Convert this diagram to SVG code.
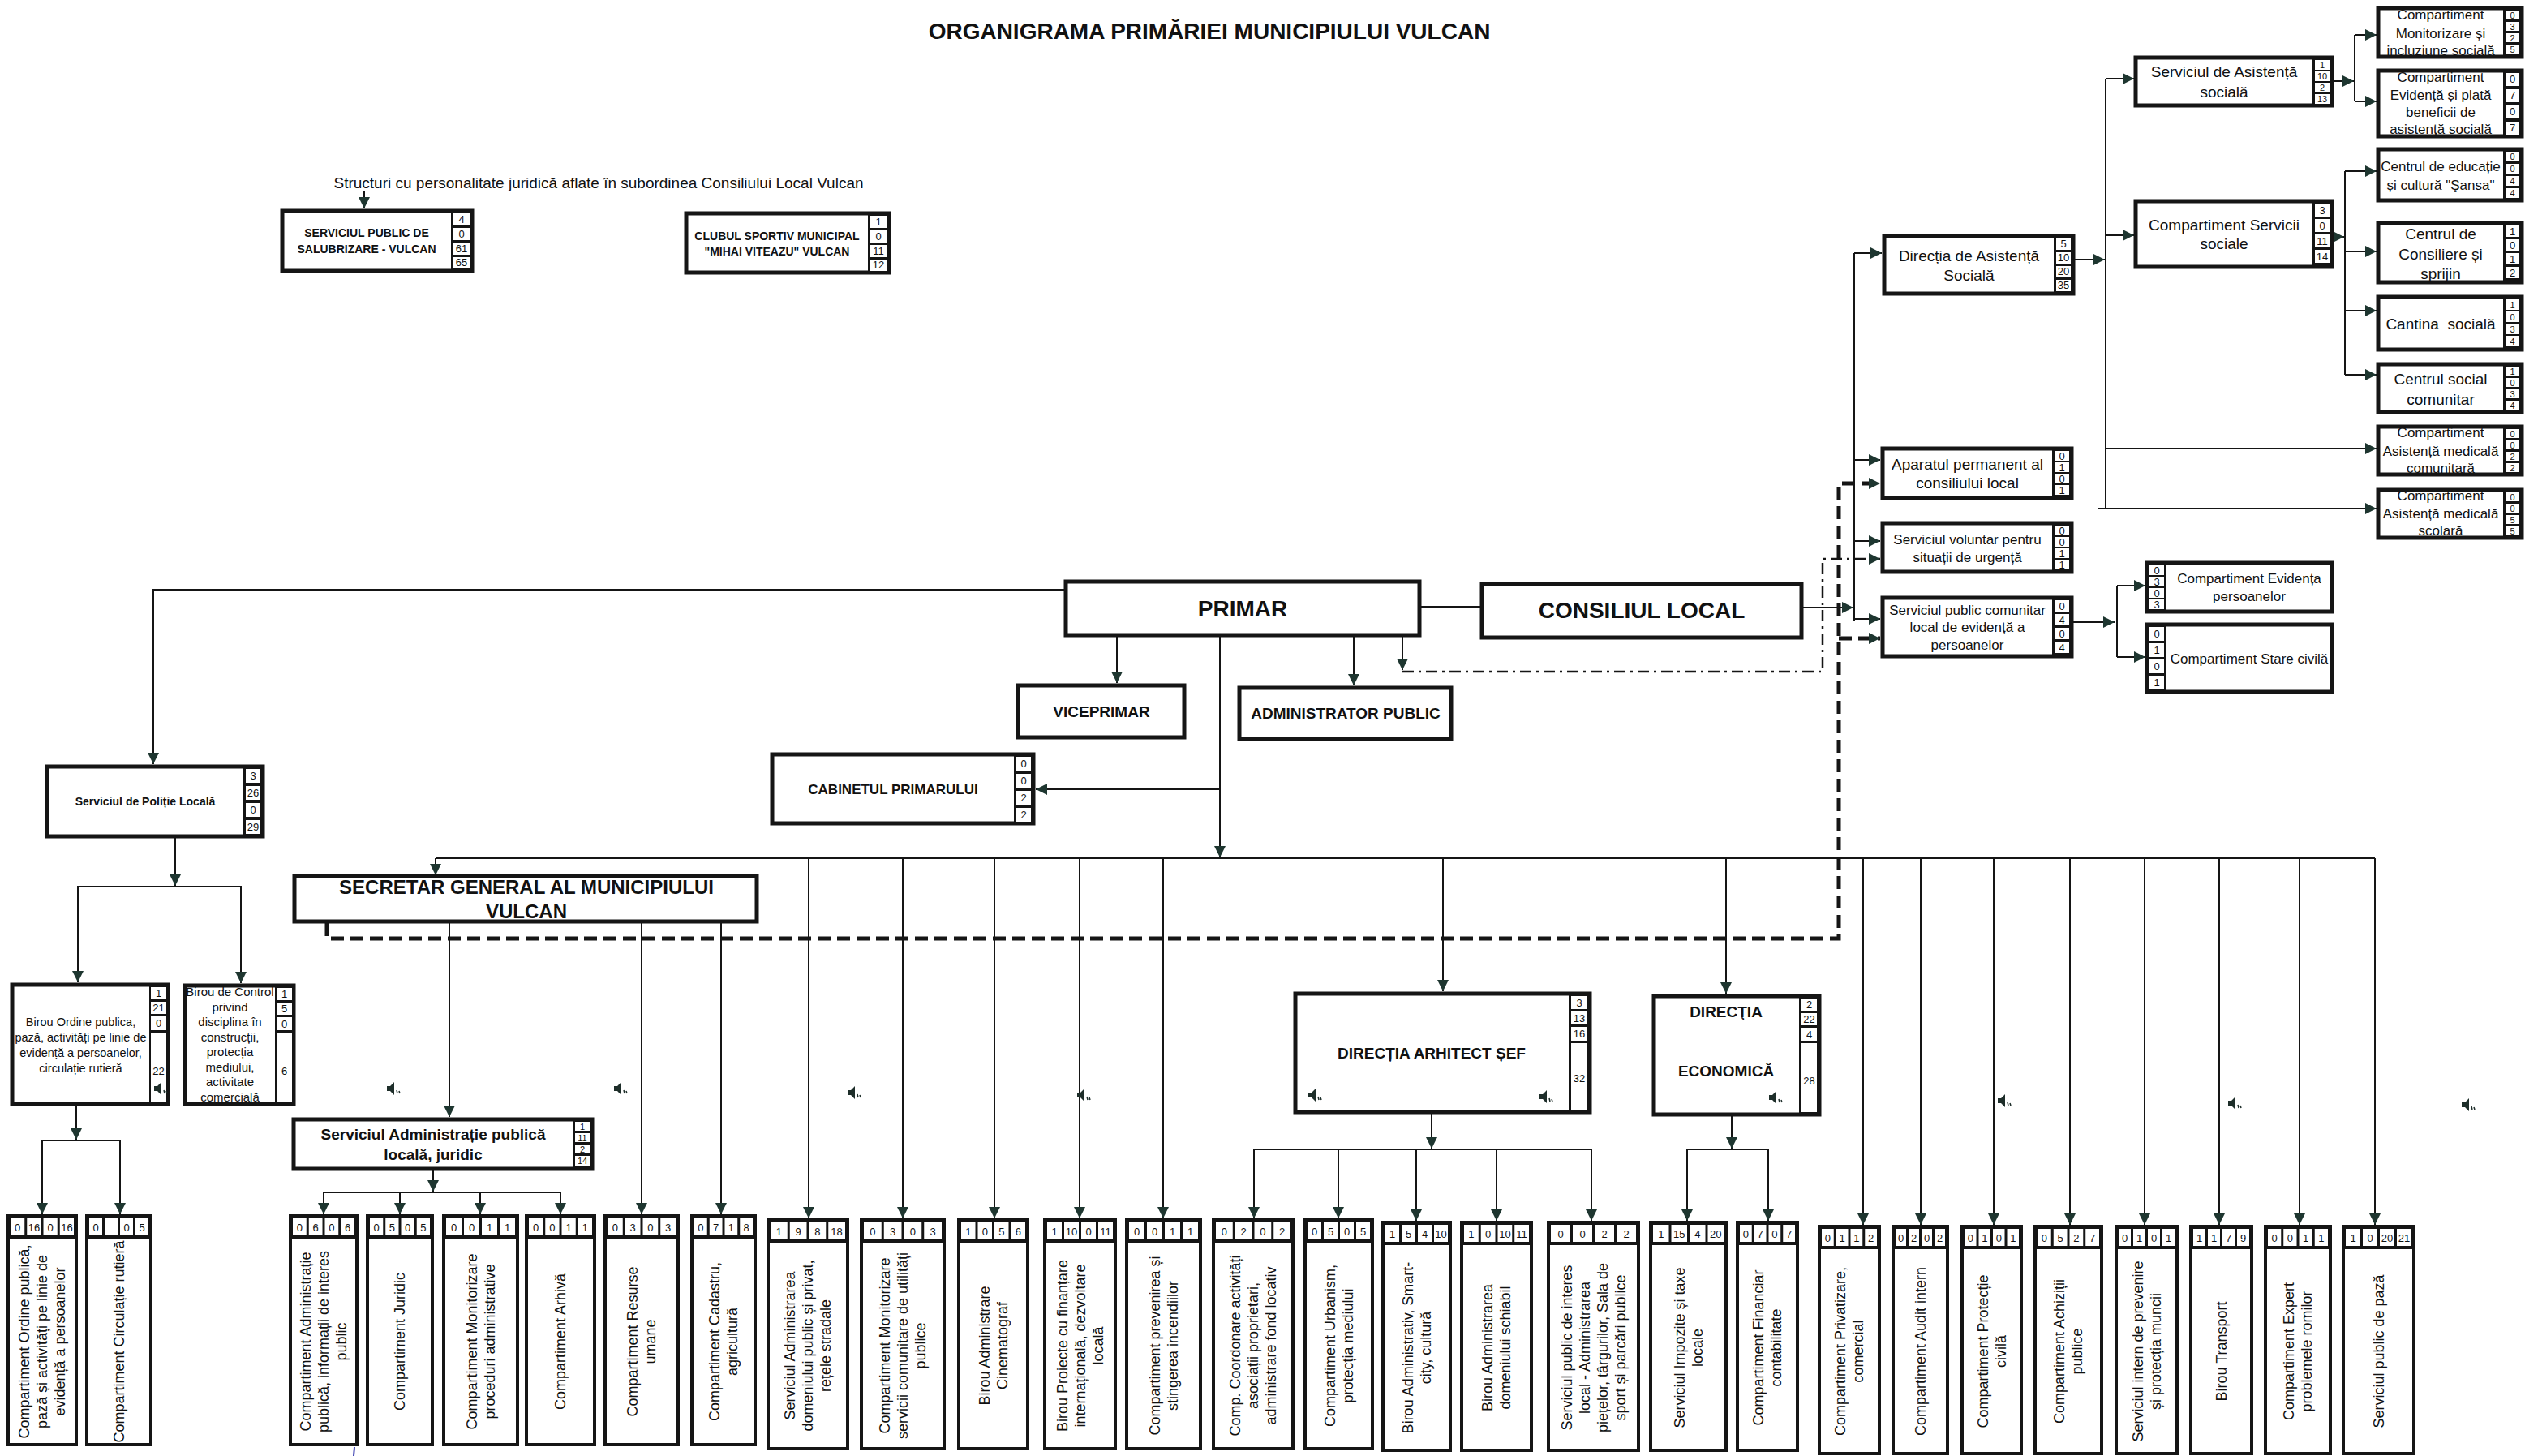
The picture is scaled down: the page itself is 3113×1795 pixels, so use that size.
<svg xmlns="http://www.w3.org/2000/svg" width="3113" height="1795" viewBox="0 0 3113 1795">
<defs>
<style>
.t{font-family:"Liberation Sans",Arial,Helvetica,sans-serif;fill:#111}
.b{font-weight:bold}
.m{text-anchor:middle}
.bx{fill:#fff;stroke:#151515;stroke-width:5}
.bb{fill:#fff;stroke:#151515;stroke-width:4}
.col{fill:#151515}
.cl{fill:#fff}
.n{font-family:"Liberation Sans",Arial,sans-serif;font-size:13px;text-anchor:middle;fill:#111}
.s{font-size:11px}
.v{font-family:"Liberation Sans",Arial,sans-serif;font-size:18px;text-anchor:middle;fill:#111}
.ln{fill:none;stroke:#151515;stroke-width:2}
.ds{fill:none;stroke:#151515;stroke-width:5;stroke-dasharray:16 8}
.dd{fill:none;stroke:#151515;stroke-width:2.5;stroke-dasharray:14 6 3 6}
</style>
<marker id="a" viewBox="0 0 10 10" refX="10" refY="5" markerWidth="14" markerHeight="14" markerUnits="userSpaceOnUse" orient="auto"><path d="M0,0 L10,5 L0,10 Z" fill="#1e3630"/></marker>
<g id="spk"><path d="M-5,-3 L-1,-3 L4,-8 L4,8 L-1,3 L-5,3 Z" fill="#1e2e2a"/><path d="M7,2 l1,4 M10,3 l1,3" stroke="#1e2e2a" stroke-width="1.5"/></g>
</defs>
<rect width="3113" height="1795" fill="#fff"/>
<text class="t b m" x="1491" y="48" font-size="28">ORGANIGRAMA PRIMĂRIEI MUNICIPIULUI VULCAN</text>
<text class="t m" x="738" y="232" font-size="19">Structuri cu personalitate juridică aflate în subordinea Consiliului Local Vulcan</text>

<g id="connectors">
<path class="ln" d="M449,236 V257" marker-end="url(#a)"/>
<path class="ln" d="M1312,727 H189 V942" marker-end="url(#a)"/>
<path class="ln" d="M216,1033 V1092" marker-end="url(#a)"/>
<path class="ln" d="M216,1093 H96 V1211" marker-end="url(#a)"/>
<path class="ln" d="M216,1093 H297 V1212" marker-end="url(#a)"/>
<path class="ln" d="M94,1363 V1405" marker-end="url(#a)"/>
<path class="ln" d="M94,1406 H52 V1497" marker-end="url(#a)"/>
<path class="ln" d="M94,1406 H148 V1497" marker-end="url(#a)"/>
<path class="ln" d="M1377,785 V842" marker-end="url(#a)"/>
<path class="ln" d="M1669,785 V845" marker-end="url(#a)"/>
<path class="ln" d="M1729,785 V826" marker-end="url(#a)"/>
<path class="dd" d="M1729,828 H2247 V689 H2318" marker-end="url(#a)"/>
<path class="ln" d="M1752,748 H1825"/>
<path class="ln" d="M2223,749 H2285" marker-end="url(#a)"/>
<path class="ln" d="M2286,312 V765"/>
<path class="ln" d="M2286,312 H2320" marker-end="url(#a)"/>
<path class="ln" d="M2286,567 H2318" marker-end="url(#a)"/>
<path class="ln" d="M2286,667 H2318" marker-end="url(#a)"/>
<path class="ln" d="M2286,763 H2318" marker-end="url(#a)"/>
<path class="ds" d="M403,1138 V1157 H2267 V596 H2318" marker-end="url(#a)"/>
<path class="ds" d="M2267,787 H2318" marker-end="url(#a)"/>
<path class="ln" d="M1504,783 V1057" marker-end="url(#a)"/>
<path class="ln" d="M1504,973 H1277" marker-end="url(#a)"/>
<path class="ln" d="M537,1058 H2928"/>
<path class="ln" d="M537,1058 V1079" marker-end="url(#a)"/>
<path class="ln" d="M997,1058 V1502" marker-end="url(#a)"/>
<path class="ln" d="M1113,1058 V1502" marker-end="url(#a)"/>
<path class="ln" d="M1226,1058 V1502" marker-end="url(#a)"/>
<path class="ln" d="M1331,1058 V1502" marker-end="url(#a)"/>
<path class="ln" d="M1434,1058 V1502" marker-end="url(#a)"/>
<path class="ln" d="M1779,1058 V1222" marker-end="url(#a)"/>
<path class="ln" d="M2128,1058 V1225" marker-end="url(#a)"/>
<path class="ln" d="M2297,1058 V1510" marker-end="url(#a)"/>
<path class="ln" d="M2368,1058 V1510" marker-end="url(#a)"/>
<path class="ln" d="M2458,1058 V1510" marker-end="url(#a)"/>
<path class="ln" d="M2552,1058 V1510" marker-end="url(#a)"/>
<path class="ln" d="M2644,1058 V1510" marker-end="url(#a)"/>
<path class="ln" d="M2736,1058 V1510" marker-end="url(#a)"/>
<path class="ln" d="M2835,1058 V1510" marker-end="url(#a)"/>
<path class="ln" d="M2928,1058 V1510" marker-end="url(#a)"/>
<path class="ln" d="M554,1138 V1377" marker-end="url(#a)"/>
<path class="ln" d="M791,1138 V1497" marker-end="url(#a)"/>
<path class="ln" d="M889,1138 V1497" marker-end="url(#a)"/>
<path class="ln" d="M534,1443 V1469" marker-end="url(#a)"/>
<path class="ln" d="M534,1470 H399 V1497" marker-end="url(#a)"/>
<path class="ln" d="M534,1470 H691 V1497" marker-end="url(#a)"/>
<path class="ln" d="M493,1470 V1497" marker-end="url(#a)"/>
<path class="ln" d="M592,1470 V1497" marker-end="url(#a)"/>
<path class="ln" d="M1765,1373 V1416" marker-end="url(#a)"/>
<path class="ln" d="M1765,1417 H1546 V1502" marker-end="url(#a)"/>
<path class="ln" d="M1765,1417 H1962 V1505" marker-end="url(#a)"/>
<path class="ln" d="M1650,1417 V1502" marker-end="url(#a)"/>
<path class="ln" d="M1746,1417 V1505" marker-end="url(#a)"/>
<path class="ln" d="M1845,1417 V1505" marker-end="url(#a)"/>
<path class="ln" d="M2135,1376 V1416" marker-end="url(#a)"/>
<path class="ln" d="M2135,1417 H2080 V1505" marker-end="url(#a)"/>
<path class="ln" d="M2135,1417 H2180 V1505" marker-end="url(#a)"/>
<path class="ln" d="M2558,320 H2595" marker-end="url(#a)"/>
<path class="ln" d="M2596,97 V627"/>
<path class="ln" d="M2596,97 H2631" marker-end="url(#a)"/>
<path class="ln" d="M2596,290 H2631" marker-end="url(#a)"/>
<path class="ln" d="M2596,553 H2930" marker-end="url(#a)"/>
<path class="ln" d="M2587,627 H2930" marker-end="url(#a)"/>
<path class="ln" d="M2877,100 H2902" marker-end="url(#a)"/>
<path class="ln" d="M2903,43 V125"/>
<path class="ln" d="M2903,43 H2930" marker-end="url(#a)"/>
<path class="ln" d="M2903,125 H2930" marker-end="url(#a)"/>
<path class="ln" d="M2877,292 H2890" marker-end="url(#a)"/>
<path class="ln" d="M2891,211 V462"/>
<path class="ln" d="M2891,211 H2930" marker-end="url(#a)"/>
<path class="ln" d="M2891,310 H2930" marker-end="url(#a)"/>
<path class="ln" d="M2891,383 H2930" marker-end="url(#a)"/>
<path class="ln" d="M2891,462 H2930" marker-end="url(#a)"/>
<path class="ln" d="M2556,767 H2607" marker-end="url(#a)"/>
<path class="ln" d="M2610,722 V810"/>
<path class="ln" d="M2610,722 H2645" marker-end="url(#a)"/>
<path class="ln" d="M2610,810 H2645" marker-end="url(#a)"/>
</g>

<g id="n-salubrizare">
<rect class="bx" x="348" y="260" width="234" height="74"/>
<rect class="col" x="556" y="260" width="26" height="74"/>
<rect class="cl" x="559" y="263" width="20" height="15"/><rect class="cl" x="559" y="281" width="20" height="15"/><rect class="cl" x="559" y="299" width="20" height="15"/><rect class="cl" x="559" y="317" width="20" height="14"/>
<text class="n" x="569" y="275">4</text><text class="n" x="569" y="293">0</text><text class="n" x="569" y="311">61</text><text class="n" x="569" y="328">65</text>
<text class="t b m" font-size="14"><tspan x="452" y="292">SERVICIUL PUBLIC DE</tspan><tspan x="452" y="312">SALUBRIZARE - VULCAN</tspan></text>
</g>
<g id="n-clubul">
<rect class="bx" x="846" y="263" width="250" height="73"/>
<rect class="col" x="1070" y="263" width="26" height="73"/>
<rect class="cl" x="1073" y="266" width="20" height="15"/><rect class="cl" x="1073" y="284" width="20" height="15"/><rect class="cl" x="1073" y="302" width="20" height="15"/><rect class="cl" x="1073" y="320" width="20" height="14"/>
<text class="n" x="1083" y="278">1</text><text class="n" x="1083" y="296">0</text><text class="n" x="1083" y="314">11</text><text class="n" x="1083" y="331">12</text>
<text class="t b m" font-size="14"><tspan x="958" y="296">CLUBUL SPORTIV MUNICIPAL</tspan><tspan x="958" y="315">"MIHAI VITEAZU" VULCAN</tspan></text>
</g>
<g id="n-primar"><rect class="bx" x="1314" y="717" width="436" height="66"/><text class="t b m" x="1532" y="760" font-size="28">PRIMAR</text></g>
<g id="n-consiliul"><rect class="bx" x="1827" y="720" width="394" height="66"/><text class="t b m" x="2024" y="762" font-size="28">CONSILIUL LOCAL</text></g>
<g id="n-viceprimar"><rect class="bx" x="1255" y="845" width="205" height="64"/><text class="t b m" x="1358" y="884" font-size="19">VICEPRIMAR</text></g>
<g id="n-administrator"><rect class="bx" x="1528" y="848" width="261" height="63"/><text class="t b m" x="1659" y="886" font-size="19">ADMINISTRATOR PUBLIC</text></g>
<g id="n-cabinet">
<rect class="bx" x="952" y="930" width="322" height="85"/>
<rect class="col" x="1250" y="930" width="24" height="85"/>
<rect class="cl" x="1253" y="933" width="18" height="17"/><rect class="cl" x="1253" y="954" width="18" height="17"/><rect class="cl" x="1253" y="975" width="18" height="17"/><rect class="cl" x="1253" y="996" width="18" height="17"/>
<text class="n" x="1262" y="946">0</text><text class="n" x="1262" y="967">0</text><text class="n" x="1262" y="988">2</text><text class="n" x="1262" y="1009">2</text>
<text class="t b m" x="1101" y="979" font-size="17">CABINETUL PRIMARULUI</text>
</g>
<g id="n-politie">
<rect class="bx" x="58" y="945" width="266" height="86"/>
<rect class="col" x="300" y="945" width="24" height="86"/>
<rect class="cl" x="303" y="948" width="18" height="17"/><rect class="cl" x="303" y="969" width="18" height="17"/><rect class="cl" x="303" y="990" width="18" height="17"/><rect class="cl" x="303" y="1011" width="18" height="17"/>
<text class="n" x="312" y="961">3</text><text class="n" x="312" y="982">26</text><text class="n" x="312" y="1003">0</text><text class="n" x="312" y="1024">29</text>
<text class="t b m" x="179" y="993" font-size="14">Serviciul de Poliție Locală</text>
</g>
<g id="n-birou-ordine">
<rect class="bx" x="15" y="1214" width="192" height="147"/>
<rect class="col" x="184" y="1214" width="23" height="147"/>
<rect class="cl" x="186" y="1217" width="19" height="15"/><rect class="cl" x="186" y="1235" width="19" height="15"/><rect class="cl" x="186" y="1253" width="19" height="17"/><rect class="cl" x="186" y="1273" width="19" height="85"/>
<text class="n" x="195.5" y="1229" font-size="15">1</text><text class="n" x="195.5" y="1247" font-size="15">21</text><text class="n" x="195.5" y="1266" font-size="15">0</text><text class="n" x="195.5" y="1325" font-size="15">22</text>
<text class="t m" font-size="14.5"><tspan x="99.5" y="1265">Birou Ordine publica,</tspan><tspan x="99.5" y="1284">pază, activități pe linie de</tspan><tspan x="99.5" y="1303">evidență a persoanelor,</tspan><tspan x="99.5" y="1322">circulație rutieră</tspan></text>
</g>
<g id="n-birou-control">
<rect class="bx" x="228" y="1215" width="134" height="146"/>
<rect class="col" x="339" y="1215" width="23" height="146"/>
<rect class="cl" x="341" y="1218" width="19" height="15"/><rect class="cl" x="341" y="1236" width="19" height="15"/><rect class="cl" x="341" y="1254" width="19" height="16"/><rect class="cl" x="341" y="1273" width="19" height="85"/>
<text class="n" x="350.5" y="1230" font-size="15">1</text><text class="n" x="350.5" y="1248" font-size="15">5</text><text class="n" x="350.5" y="1267" font-size="15">0</text><text class="n" x="350.5" y="1325" font-size="15">6</text>
<text class="t m" font-size="15"><tspan x="283.5" y="1228">Birou de Control</tspan><tspan x="283.5" y="1246.5">privind</tspan><tspan x="283.5" y="1265">disciplina în</tspan><tspan x="283.5" y="1283.5">construcții,</tspan><tspan x="283.5" y="1302">protecția</tspan><tspan x="283.5" y="1320.5">mediului,</tspan><tspan x="283.5" y="1339">activitate</tspan><tspan x="283.5" y="1357.5">comercială</tspan></text>
</g>
<g id="n-secretar"><rect class="bx" x="363" y="1080" width="570" height="56"/><text class="t b m" font-size="24"><tspan x="649" y="1102">SECRETAR GENERAL AL MUNICIPIULUI</tspan><tspan x="649" y="1132">VULCAN</tspan></text></g>
<g id="n-serv-adm-publica">
<rect class="bx" x="362" y="1380" width="368" height="61"/>
<rect class="col" x="706" y="1380" width="24" height="61"/>
<rect class="cl" x="709" y="1383" width="18" height="11"/><rect class="cl" x="709" y="1397" width="18" height="11"/><rect class="cl" x="709" y="1411" width="18" height="11"/><rect class="cl" x="709" y="1425" width="18" height="12"/>
<text class="n s" x="718" y="1393">1</text><text class="n s" x="718" y="1407">11</text><text class="n s" x="718" y="1421">2</text><text class="n s" x="718" y="1435">14</text>
<text class="t b m" font-size="19"><tspan x="534" y="1405">Serviciul Administrație publică</tspan><tspan x="534" y="1430">locală, juridic</tspan></text>
</g>
<g id="n-arhitect">
<rect class="bx" x="1597" y="1225" width="363" height="146"/>
<rect class="col" x="1934" y="1225" width="26" height="146"/>
<rect class="cl" x="1937" y="1228" width="20" height="16"/><rect class="cl" x="1937" y="1247" width="20" height="16"/><rect class="cl" x="1937" y="1266" width="20" height="17"/><rect class="cl" x="1937" y="1286" width="20" height="82"/>
<text class="n" x="1947" y="1241" font-size="14">3</text><text class="n" x="1947" y="1260" font-size="14">13</text><text class="n" x="1947" y="1279" font-size="14">16</text><text class="n" x="1947" y="1334" font-size="14">32</text>
<text class="t b m" x="1765" y="1305" font-size="19">DIRECȚIA ARHITECT ȘEF</text>
</g>
<g id="n-economica">
<rect class="bx" x="2039" y="1228" width="204" height="146"/>
<rect class="col" x="2218" y="1228" width="25" height="146"/>
<rect class="cl" x="2221" y="1231" width="19" height="15"/><rect class="cl" x="2221" y="1249" width="19" height="15"/><rect class="cl" x="2221" y="1267" width="19" height="16"/><rect class="cl" x="2221" y="1286" width="19" height="85"/>
<text class="n" x="2230.5" y="1243" font-size="14">2</text><text class="n" x="2230.5" y="1261" font-size="14">22</text><text class="n" x="2230.5" y="1280" font-size="14">4</text><text class="n" x="2230.5" y="1337" font-size="14">28</text>
<text class="t b m" font-size="19"><tspan x="2128" y="1254">DIRECŢIA</tspan><tspan x="2128" y="1327">ECONOMICĂ</tspan></text>
</g>
<g id="n-dir-asistenta">
<rect class="bx" x="2323" y="291" width="233" height="71"/>
<rect class="col" x="2532" y="291" width="24" height="71"/>
<rect class="cl" x="2535" y="294" width="18" height="14"/><rect class="cl" x="2535" y="311" width="18" height="14"/><rect class="cl" x="2535" y="328" width="18" height="14"/><rect class="cl" x="2535" y="345" width="18" height="14"/>
<text class="n" x="2544" y="305" font-size="12">5</text><text class="n" x="2544" y="322" font-size="12">10</text><text class="n" x="2544" y="339" font-size="12">20</text><text class="n" x="2544" y="356" font-size="12">35</text>
<text class="t m" font-size="19"><tspan x="2427.5" y="322">Direcția de Asistență</tspan><tspan x="2427.5" y="346">Socială</tspan></text>
</g>
<g id="n-serv-asistenta">
<rect class="bx" x="2633" y="71" width="242" height="59"/>
<rect class="col" x="2851" y="71" width="24" height="59"/>
<rect class="cl" x="2854" y="74" width="18" height="12"/><rect class="cl" x="2854" y="88" width="18" height="12"/><rect class="cl" x="2854" y="102" width="18" height="12"/><rect class="cl" x="2854" y="116" width="18" height="12"/>
<text class="n s" x="2863" y="84">1</text><text class="n s" x="2863" y="98">10</text><text class="n s" x="2863" y="112">2</text><text class="n s" x="2863" y="126">13</text>
<text class="t m" font-size="19"><tspan x="2742" y="95">Serviciul de Asistență</tspan><tspan x="2742" y="120">socială</tspan></text>
</g>
<g id="n-comp-servicii">
<rect class="bx" x="2633" y="248" width="242" height="81"/>
<rect class="col" x="2851" y="248" width="24" height="81"/>
<rect class="cl" x="2854" y="251" width="18" height="16"/><rect class="cl" x="2854" y="270" width="18" height="16"/><rect class="cl" x="2854" y="289" width="18" height="16"/><rect class="cl" x="2854" y="308" width="18" height="16"/>
<text class="n" x="2863" y="264">3</text><text class="n" x="2863" y="283">0</text><text class="n" x="2863" y="302">11</text><text class="n" x="2863" y="321">14</text>
<text class="t m" font-size="19"><tspan x="2742" y="284">Compartiment Servicii</tspan><tspan x="2742" y="307">sociale</tspan></text>
</g>
<g id="n-monitorizare">
<rect class="bx" x="2932" y="10" width="177" height="60"/>
<rect class="col" x="3086" y="10" width="23" height="60"/>
<rect class="cl" x="3089" y="13" width="17" height="11"/><rect class="cl" x="3089" y="27" width="17" height="11"/><rect class="cl" x="3089" y="41" width="17" height="11"/><rect class="cl" x="3089" y="55" width="17" height="11"/>
<text class="n s" x="3097.5" y="23">0</text><text class="n s" x="3097.5" y="37">3</text><text class="n s" x="3097.5" y="51">2</text><text class="n s" x="3097.5" y="65">5</text>
<text class="t m" font-size="17"><tspan x="3009" y="24">Compartiment</tspan><tspan x="3009" y="47">Monitorizare și</tspan><tspan x="3009" y="68">incluziune socială</tspan></text>
</g>
<g id="n-evidenta-plata">
<rect class="bx" x="2932" y="87" width="177" height="81"/>
<rect class="col" x="3086" y="87" width="23" height="81"/>
<rect class="cl" x="3089" y="90" width="17" height="16"/><rect class="cl" x="3089" y="110" width="17" height="16"/><rect class="cl" x="3089" y="130" width="17" height="16"/><rect class="cl" x="3089" y="150" width="17" height="16"/>
<text class="n" x="3097.5" y="102" font-size="12">0</text><text class="n" x="3097.5" y="122" font-size="12">7</text><text class="n" x="3097.5" y="142" font-size="12">0</text><text class="n" x="3097.5" y="162" font-size="12">7</text>
<text class="t m" font-size="17"><tspan x="3009" y="101">Compartiment</tspan><tspan x="3009" y="123">Evidență și plată</tspan><tspan x="3009" y="144">beneficii de</tspan><tspan x="3009" y="165">asistență socială</tspan></text>
</g>
<g id="n-sansa">
<rect class="bx" x="2932" y="184" width="177" height="63"/>
<rect class="col" x="3086" y="184" width="23" height="63"/>
<rect class="cl" x="3089" y="187" width="17" height="12"/><rect class="cl" x="3089" y="202" width="17" height="12"/><rect class="cl" x="3089" y="217" width="17" height="12"/><rect class="cl" x="3089" y="232" width="17" height="12"/>
<text class="n s" x="3097.5" y="197">0</text><text class="n s" x="3097.5" y="212">0</text><text class="n s" x="3097.5" y="227">4</text><text class="n s" x="3097.5" y="242">4</text>
<text class="t m" font-size="17"><tspan x="3009" y="211">Centrul de educație</tspan><tspan x="3009" y="234">și cultură "Şansa"</tspan></text>
</g>
<g id="n-consiliere">
<rect class="bx" x="2932" y="275" width="177" height="73"/>
<rect class="col" x="3086" y="275" width="23" height="73"/>
<rect class="cl" x="3089" y="278" width="17" height="14"/><rect class="cl" x="3089" y="295" width="17" height="14"/><rect class="cl" x="3089" y="312" width="17" height="14"/><rect class="cl" x="3089" y="329" width="17" height="14"/>
<text class="n" x="3097.5" y="290" font-size="12">1</text><text class="n" x="3097.5" y="307" font-size="12">0</text><text class="n" x="3097.5" y="324" font-size="12">1</text><text class="n" x="3097.5" y="341" font-size="12">2</text>
<text class="t m" font-size="19"><tspan x="3009" y="295">Centrul de</tspan><tspan x="3009" y="320">Consiliere și</tspan><tspan x="3009" y="344">sprijin</tspan></text>
</g>
<g id="n-cantina">
<rect class="bx" x="2932" y="366" width="177" height="65"/>
<rect class="col" x="3086" y="366" width="23" height="65"/>
<rect class="cl" x="3089" y="369" width="17" height="13"/><rect class="cl" x="3089" y="384" width="17" height="13"/><rect class="cl" x="3089" y="399" width="17" height="13"/><rect class="cl" x="3089" y="414" width="17" height="13"/>
<text class="n s" x="3097.5" y="380">1</text><text class="n s" x="3097.5" y="395">0</text><text class="n s" x="3097.5" y="410">3</text><text class="n s" x="3097.5" y="425">4</text>
<text class="t m" x="3009" y="406" font-size="19" xml:space="preserve">Cantina  socială</text>
</g>
<g id="n-centrul-social">
<rect class="bx" x="2932" y="449" width="177" height="59"/>
<rect class="col" x="3086" y="449" width="23" height="59"/>
<rect class="cl" x="3089" y="452" width="17" height="11"/><rect class="cl" x="3089" y="466" width="17" height="11"/><rect class="cl" x="3089" y="480" width="17" height="11"/><rect class="cl" x="3089" y="494" width="17" height="11"/>
<text class="n s" x="3097.5" y="462">1</text><text class="n s" x="3097.5" y="476">0</text><text class="n s" x="3097.5" y="490">3</text><text class="n s" x="3097.5" y="504">4</text>
<text class="t m" font-size="19"><tspan x="3009" y="474">Centrul social</tspan><tspan x="3009" y="499">comunitar</tspan></text>
</g>
<g id="n-med-comunitara">
<rect class="bx" x="2932" y="526" width="177" height="59"/>
<rect class="col" x="3086" y="526" width="23" height="59"/>
<rect class="cl" x="3089" y="529" width="17" height="11"/><rect class="cl" x="3089" y="543" width="17" height="11"/><rect class="cl" x="3089" y="557" width="17" height="11"/><rect class="cl" x="3089" y="571" width="17" height="11"/>
<text class="n s" x="3097.5" y="539">0</text><text class="n s" x="3097.5" y="553">0</text><text class="n s" x="3097.5" y="567">2</text><text class="n s" x="3097.5" y="581">2</text>
<text class="t m" font-size="17"><tspan x="3009" y="539">Compartiment</tspan><tspan x="3009" y="562">Asistență medicală</tspan><tspan x="3009" y="583">comunitară</tspan></text>
</g>
<g id="n-med-scolara">
<rect class="bx" x="2932" y="604" width="177" height="59"/>
<rect class="col" x="3086" y="604" width="23" height="59"/>
<rect class="cl" x="3089" y="607" width="17" height="11"/><rect class="cl" x="3089" y="621" width="17" height="11"/><rect class="cl" x="3089" y="635" width="17" height="11"/><rect class="cl" x="3089" y="649" width="17" height="11"/>
<text class="n s" x="3097.5" y="617">0</text><text class="n s" x="3097.5" y="631">0</text><text class="n s" x="3097.5" y="645">5</text><text class="n s" x="3097.5" y="659">5</text>
<text class="t m" font-size="17"><tspan x="3009" y="617">Compartiment</tspan><tspan x="3009" y="639">Asistență medicală</tspan><tspan x="3009" y="660">scolară</tspan></text>
</g>
<g id="n-aparatul">
<rect class="bx" x="2321" y="553" width="233" height="61"/>
<rect class="col" x="2530" y="553" width="24" height="61"/>
<rect class="cl" x="2533" y="556" width="18" height="12"/><rect class="cl" x="2533" y="570" width="18" height="12"/><rect class="cl" x="2533" y="584" width="18" height="12"/><rect class="cl" x="2533" y="598" width="18" height="12"/>
<text class="n" x="2542" y="567" font-size="12">0</text><text class="n" x="2542" y="581" font-size="12">1</text><text class="n" x="2542" y="595" font-size="12">0</text><text class="n" x="2542" y="609" font-size="12">1</text>
<text class="t m" font-size="19"><tspan x="2425.5" y="579">Aparatul permanent al</tspan><tspan x="2425.5" y="602">consiliului local</tspan></text>
</g>
<g id="n-voluntar">
<rect class="bx" x="2321" y="645" width="233" height="60"/>
<rect class="col" x="2530" y="645" width="24" height="60"/>
<rect class="cl" x="2533" y="648" width="18" height="12"/><rect class="cl" x="2533" y="662" width="18" height="12"/><rect class="cl" x="2533" y="676" width="18" height="12"/><rect class="cl" x="2533" y="690" width="18" height="12"/>
<text class="n" x="2542" y="659" font-size="12">0</text><text class="n" x="2542" y="673" font-size="12">0</text><text class="n" x="2542" y="687" font-size="12">1</text><text class="n" x="2542" y="701" font-size="12">1</text>
<text class="t m" font-size="17"><tspan x="2425.5" y="671">Serviciul voluntar pentru</tspan><tspan x="2425.5" y="693">situații de urgență</tspan></text>
</g>
<g id="n-spclep">
<rect class="bx" x="2321" y="737" width="233" height="72"/>
<rect class="col" x="2530" y="737" width="24" height="72"/>
<rect class="cl" x="2533" y="740" width="18" height="14"/><rect class="cl" x="2533" y="757" width="18" height="14"/><rect class="cl" x="2533" y="774" width="18" height="14"/><rect class="cl" x="2533" y="791" width="18" height="14"/>
<text class="n" x="2542" y="752" font-size="12">0</text><text class="n" x="2542" y="769" font-size="12">4</text><text class="n" x="2542" y="786" font-size="12">0</text><text class="n" x="2542" y="803" font-size="12">4</text>
<text class="t m" font-size="17"><tspan x="2425.5" y="758">Serviciul public comunitar</tspan><tspan x="2425.5" y="779">local de evidență a</tspan><tspan x="2425.5" y="801">persoanelor</tspan></text>
</g>
<g id="n-evidenta-pers">
<rect class="bx" x="2647" y="694" width="228" height="60"/>
<rect class="col" x="2647" y="694" width="24" height="60"/>
<rect class="cl" x="2650" y="697" width="18" height="12"/><rect class="cl" x="2650" y="711" width="18" height="12"/><rect class="cl" x="2650" y="725" width="18" height="12"/><rect class="cl" x="2650" y="739" width="18" height="12"/>
<text class="n" x="2659" y="708" font-size="12">0</text><text class="n" x="2659" y="722" font-size="12">3</text><text class="n" x="2659" y="736" font-size="12">0</text><text class="n" x="2659" y="750" font-size="12">3</text>
<text class="t m" font-size="17"><tspan x="2773" y="719">Compartiment Evidența</tspan><tspan x="2773" y="741">persoanelor</tspan></text>
</g>
<g id="n-stare-civila">
<rect class="bx" x="2647" y="770" width="228" height="83"/>
<rect class="col" x="2647" y="770" width="24" height="83"/>
<rect class="cl" x="2650" y="773" width="18" height="17"/><rect class="cl" x="2650" y="793" width="18" height="17"/><rect class="cl" x="2650" y="813" width="18" height="17"/><rect class="cl" x="2650" y="833" width="18" height="17"/>
<text class="n" x="2659" y="786">0</text><text class="n" x="2659" y="806">1</text><text class="n" x="2659" y="826">0</text><text class="n" x="2659" y="846">1</text>
<text class="t m" x="2773" y="818" font-size="17">Compartiment Stare civilă</text>
</g>

<g id="b01"><rect class="bb" x="10" y="1499" width="84" height="282"/><rect class="col" x="8" y="1497" width="88" height="30"/>
<rect class="cl" x="13" y="1502" width="17.25" height="21"/><rect class="cl" x="33.25" y="1502" width="17.25" height="21"/><rect class="cl" x="53.5" y="1502" width="17.25" height="21"/><rect class="cl" x="73.75" y="1502" width="17.25" height="21"/>
<text class="n" x="21.6" y="1518">0</text><text class="n" x="41.9" y="1518">16</text><text class="n" x="62.1" y="1518">0</text><text class="n" x="82.4" y="1518">16</text>
<text class="v" transform="rotate(-90 52 1654)"><tspan x="52" y="1638">Compartiment Ordine publică,</tspan><tspan x="52" y="1660">pază și activități pe linie de</tspan><tspan x="52" y="1682">evidență a persoanelor</tspan></text></g>
<g id="b02"><rect class="bb" x="107" y="1499" width="79" height="282"/><rect class="col" x="105" y="1497" width="83" height="30"/>
<rect class="cl" x="110" y="1502" width="16" height="21"/><rect class="cl" x="129" y="1502" width="16" height="21"/><rect class="cl" x="148" y="1502" width="16" height="21"/><rect class="cl" x="167" y="1502" width="16" height="21"/>
<text class="n" x="118" y="1518">0</text><text class="n" x="156" y="1518">0</text><text class="n" x="175" y="1518">5</text>
<text class="v" transform="rotate(-90 146.5 1654)"><tspan x="146.5" y="1660">Compartiment Circulație rutieră</tspan></text></g>
<g id="b03"><rect class="bb" x="358" y="1499" width="82" height="282"/><rect class="col" x="356" y="1497" width="86" height="30"/>
<rect class="cl" x="361" y="1502" width="16.75" height="21"/><rect class="cl" x="380.75" y="1502" width="16.75" height="21"/><rect class="cl" x="400.5" y="1502" width="16.75" height="21"/><rect class="cl" x="420.25" y="1502" width="16.75" height="21"/>
<text class="n" x="369.4" y="1518">0</text><text class="n" x="389.1" y="1518">6</text><text class="n" x="408.9" y="1518">0</text><text class="n" x="428.6" y="1518">6</text>
<text class="v" transform="rotate(-90 399 1654)"><tspan x="399" y="1638">Compartiment Administrație</tspan><tspan x="399" y="1660">publică, informații de interes</tspan><tspan x="399" y="1682">public</tspan></text></g>
<g id="b04"><rect class="bb" x="453" y="1499" width="80" height="282"/><rect class="col" x="451" y="1497" width="84" height="30"/>
<rect class="cl" x="456" y="1502" width="16.25" height="21"/><rect class="cl" x="475.25" y="1502" width="16.25" height="21"/><rect class="cl" x="494.5" y="1502" width="16.25" height="21"/><rect class="cl" x="513.75" y="1502" width="16.25" height="21"/>
<text class="n" x="464.1" y="1518">0</text><text class="n" x="483.4" y="1518">5</text><text class="n" x="502.6" y="1518">0</text><text class="n" x="521.9" y="1518">5</text>
<text class="v" transform="rotate(-90 493 1654)"><tspan x="493" y="1660">Compartiment Juridic</tspan></text></g>
<g id="b05"><rect class="bb" x="547" y="1499" width="91" height="282"/><rect class="col" x="545" y="1497" width="95" height="30"/>
<rect class="cl" x="550" y="1502" width="19" height="21"/><rect class="cl" x="572" y="1502" width="19" height="21"/><rect class="cl" x="594" y="1502" width="19" height="21"/><rect class="cl" x="616" y="1502" width="19" height="21"/>
<text class="n" x="559.5" y="1518">0</text><text class="n" x="581.5" y="1518">0</text><text class="n" x="603.5" y="1518">1</text><text class="n" x="625.5" y="1518">1</text>
<text class="v" transform="rotate(-90 592.5 1654)"><tspan x="592.5" y="1649">Compartiment Monitorizare</tspan><tspan x="592.5" y="1671">proceduri administrative</tspan></text></g>
<g id="b06"><rect class="bb" x="649" y="1499" width="84" height="282"/><rect class="col" x="647" y="1497" width="88" height="30"/>
<rect class="cl" x="652" y="1502" width="17.25" height="21"/><rect class="cl" x="672.25" y="1502" width="17.25" height="21"/><rect class="cl" x="692.5" y="1502" width="17.25" height="21"/><rect class="cl" x="712.75" y="1502" width="17.25" height="21"/>
<text class="n" x="660.6" y="1518">0</text><text class="n" x="680.9" y="1518">0</text><text class="n" x="701.1" y="1518">1</text><text class="n" x="721.4" y="1518">1</text>
<text class="v" transform="rotate(-90 691 1654)"><tspan x="691" y="1660">Compartiment Arhivă</tspan></text></g>
<g id="b07"><rect class="bb" x="746" y="1499" width="90" height="282"/><rect class="col" x="744" y="1497" width="94" height="30"/>
<rect class="cl" x="749" y="1502" width="18.75" height="21"/><rect class="cl" x="770.75" y="1502" width="18.75" height="21"/><rect class="cl" x="792.5" y="1502" width="18.75" height="21"/><rect class="cl" x="814.25" y="1502" width="18.75" height="21"/>
<text class="n" x="758.4" y="1518">0</text><text class="n" x="780.1" y="1518">3</text><text class="n" x="801.9" y="1518">0</text><text class="n" x="823.6" y="1518">3</text>
<text class="v" transform="rotate(-90 791 1654)"><tspan x="791" y="1649">Compartiment Resurse</tspan><tspan x="791" y="1671">umane</tspan></text></g>
<g id="b08"><rect class="bb" x="853" y="1499" width="78" height="282"/><rect class="col" x="851" y="1497" width="82" height="30"/>
<rect class="cl" x="856" y="1502" width="15.75" height="21"/><rect class="cl" x="874.75" y="1502" width="15.75" height="21"/><rect class="cl" x="893.5" y="1502" width="15.75" height="21"/><rect class="cl" x="912.25" y="1502" width="15.75" height="21"/>
<text class="n" x="863.9" y="1518">0</text><text class="n" x="882.6" y="1518">7</text><text class="n" x="901.4" y="1518">1</text><text class="n" x="920.1" y="1518">8</text>
<text class="v" transform="rotate(-90 892 1654)"><tspan x="892" y="1649">Compartiment Cadastru,</tspan><tspan x="892" y="1671">agricultură</tspan></text></g>

<g id="b09"><rect class="bb" x="947" y="1504" width="98" height="282"/><rect class="col" x="945" y="1502" width="102" height="30"/>
<rect class="cl" x="950" y="1507" width="20.75" height="21"/><rect class="cl" x="973.75" y="1507" width="20.75" height="21"/><rect class="cl" x="997.5" y="1507" width="20.75" height="21"/><rect class="cl" x="1021.25" y="1507" width="20.75" height="21"/>
<text class="n" x="960.4" y="1523">1</text><text class="n" x="984.1" y="1523">9</text><text class="n" x="1007.9" y="1523">8</text><text class="n" x="1031.6" y="1523">18</text>
<text class="v" transform="rotate(-90 996 1659)"><tspan x="996" y="1643">Serviciul Administrarea</tspan><tspan x="996" y="1665">domeniului public și privat,</tspan><tspan x="996" y="1687">rețele stradale</tspan></text></g>
<g id="b10"><rect class="bb" x="1062" y="1504" width="102" height="282"/><rect class="col" x="1060" y="1502" width="106" height="30"/>
<rect class="cl" x="1065" y="1507" width="21.75" height="21"/><rect class="cl" x="1089.75" y="1507" width="21.75" height="21"/><rect class="cl" x="1114.5" y="1507" width="21.75" height="21"/><rect class="cl" x="1139.25" y="1507" width="21.75" height="21"/>
<text class="n" x="1075.9" y="1523">0</text><text class="n" x="1100.6" y="1523">3</text><text class="n" x="1125.4" y="1523">0</text><text class="n" x="1150.1" y="1523">3</text>
<text class="v" transform="rotate(-90 1113 1659)"><tspan x="1113" y="1643">Compartiment Monitorizare</tspan><tspan x="1113" y="1665">servicii comunitare de utilități</tspan><tspan x="1113" y="1687">publice</tspan></text></g>
<g id="b11"><rect class="bb" x="1182" y="1504" width="85" height="282"/><rect class="col" x="1180" y="1502" width="89" height="30"/>
<rect class="cl" x="1185" y="1507" width="17.5" height="21"/><rect class="cl" x="1205.5" y="1507" width="17.5" height="21"/><rect class="cl" x="1226" y="1507" width="17.5" height="21"/><rect class="cl" x="1246.5" y="1507" width="17.5" height="21"/>
<text class="n" x="1193.75" y="1523">1</text><text class="n" x="1214.25" y="1523">0</text><text class="n" x="1234.75" y="1523">5</text><text class="n" x="1255.25" y="1523">6</text>
<text class="v" transform="rotate(-90 1224.5 1659)"><tspan x="1224.5" y="1654">Birou Administrare</tspan><tspan x="1224.5" y="1676">Cinematograf</tspan></text></g>
<g id="b12"><rect class="bb" x="1288" y="1504" width="87" height="282"/><rect class="col" x="1286" y="1502" width="91" height="30"/>
<rect class="cl" x="1291" y="1507" width="18" height="21"/><rect class="cl" x="1312" y="1507" width="18" height="21"/><rect class="cl" x="1333" y="1507" width="18" height="21"/><rect class="cl" x="1354" y="1507" width="18" height="21"/>
<text class="n" x="1300" y="1523">1</text><text class="n" x="1321" y="1523">10</text><text class="n" x="1342" y="1523">0</text><text class="n" x="1363" y="1523">11</text>
<text class="v" transform="rotate(-90 1331.5 1659)"><tspan x="1331.5" y="1643">Birou Proiecte cu finanțare</tspan><tspan x="1331.5" y="1665">internațională, dezvoltare</tspan><tspan x="1331.5" y="1687">locală</tspan></text></g>
<g id="b13"><rect class="bb" x="1389" y="1504" width="91" height="282"/><rect class="col" x="1387" y="1502" width="95" height="30"/>
<rect class="cl" x="1392" y="1507" width="19" height="21"/><rect class="cl" x="1414" y="1507" width="19" height="21"/><rect class="cl" x="1436" y="1507" width="19" height="21"/><rect class="cl" x="1458" y="1507" width="19" height="21"/>
<text class="n" x="1401.5" y="1523">0</text><text class="n" x="1423.5" y="1523">0</text><text class="n" x="1445.5" y="1523">1</text><text class="n" x="1467.5" y="1523">1</text>
<text class="v" transform="rotate(-90 1434.5 1659)"><tspan x="1434.5" y="1654">Compartiment prevenirea și</tspan><tspan x="1434.5" y="1676">stingerea incendiilor</tspan></text></g>
<g id="b14"><rect class="bb" x="1496" y="1504" width="98" height="282"/><rect class="col" x="1494" y="1502" width="102" height="30"/>
<rect class="cl" x="1499" y="1507" width="20.75" height="21"/><rect class="cl" x="1522.75" y="1507" width="20.75" height="21"/><rect class="cl" x="1546.5" y="1507" width="20.75" height="21"/><rect class="cl" x="1570.25" y="1507" width="20.75" height="21"/>
<text class="n" x="1509.4" y="1523">0</text><text class="n" x="1533.1" y="1523">2</text><text class="n" x="1556.9" y="1523">0</text><text class="n" x="1580.6" y="1523">2</text>
<text class="v" transform="rotate(-90 1545 1659)"><tspan x="1545" y="1643">Comp. Coordonare activități</tspan><tspan x="1545" y="1665">asociații proprietari,</tspan><tspan x="1545" y="1687">administrare fond locativ</tspan></text></g>
<g id="b15"><rect class="bb" x="1609" y="1504" width="83" height="282"/><rect class="col" x="1607" y="1502" width="87" height="30"/>
<rect class="cl" x="1612" y="1507" width="17" height="21"/><rect class="cl" x="1632" y="1507" width="17" height="21"/><rect class="cl" x="1652" y="1507" width="17" height="21"/><rect class="cl" x="1672" y="1507" width="17" height="21"/>
<text class="n" x="1620.5" y="1523">0</text><text class="n" x="1640.5" y="1523">5</text><text class="n" x="1660.5" y="1523">0</text><text class="n" x="1680.5" y="1523">5</text>
<text class="v" transform="rotate(-90 1650.5 1659)"><tspan x="1650.5" y="1654">Compartiment Urbanism,</tspan><tspan x="1650.5" y="1676">protecția mediului</tspan></text></g>

<g id="b16"><rect class="bb" x="1705" y="1507" width="83" height="281"/><rect class="col" x="1703" y="1505" width="87" height="30"/>
<rect class="cl" x="1708" y="1510" width="17" height="21"/><rect class="cl" x="1728" y="1510" width="17" height="21"/><rect class="cl" x="1748" y="1510" width="17" height="21"/><rect class="cl" x="1768" y="1510" width="17" height="21"/>
<text class="n" x="1716.5" y="1526">1</text><text class="n" x="1736.5" y="1526">5</text><text class="n" x="1756.5" y="1526">4</text><text class="n" x="1776.5" y="1526">10</text>
<text class="v" transform="rotate(-90 1746.5 1661.5)"><tspan x="1746.5" y="1656.5">Birou Administrativ, Smart-</tspan><tspan x="1746.5" y="1678.5">city, cultură</tspan></text></g>
<g id="b17"><rect class="bb" x="1802" y="1507" width="86" height="281"/><rect class="col" x="1800" y="1505" width="90" height="30"/>
<rect class="cl" x="1805" y="1510" width="17.75" height="21"/><rect class="cl" x="1825.75" y="1510" width="17.75" height="21"/><rect class="cl" x="1846.5" y="1510" width="17.75" height="21"/><rect class="cl" x="1867.25" y="1510" width="17.75" height="21"/>
<text class="n" x="1813.9" y="1526">1</text><text class="n" x="1834.6" y="1526">0</text><text class="n" x="1855.4" y="1526">10</text><text class="n" x="1876.1" y="1526">11</text>
<text class="v" transform="rotate(-90 1845 1661.5)"><tspan x="1845" y="1656.5">Birou Administrarea</tspan><tspan x="1845" y="1678.5">domeniului schiabil</tspan></text></g>
<g id="b18"><rect class="bb" x="1909" y="1507" width="111" height="281"/><rect class="col" x="1907" y="1505" width="115" height="30"/>
<rect class="cl" x="1912" y="1510" width="24" height="21"/><rect class="cl" x="1939" y="1510" width="24" height="21"/><rect class="cl" x="1966" y="1510" width="24" height="21"/><rect class="cl" x="1993" y="1510" width="24" height="21"/>
<text class="n" x="1924" y="1526">0</text><text class="n" x="1951" y="1526">0</text><text class="n" x="1978" y="1526">2</text><text class="n" x="2005" y="1526">2</text>
<text class="v" transform="rotate(-90 1964.5 1661.5)"><tspan x="1964.5" y="1634.5">Serviciul public de interes</tspan><tspan x="1964.5" y="1656.5">local - Administrarea</tspan><tspan x="1964.5" y="1678.5">piețelor, târgurilor, Sala de</tspan><tspan x="1964.5" y="1700.5">sport și parcări publice</tspan></text></g>
<g id="b19"><rect class="bb" x="2035" y="1507" width="93" height="281"/><rect class="col" x="2033" y="1505" width="97" height="30"/>
<rect class="cl" x="2038" y="1510" width="19.5" height="21"/><rect class="cl" x="2060.5" y="1510" width="19.5" height="21"/><rect class="cl" x="2083" y="1510" width="19.5" height="21"/><rect class="cl" x="2105.5" y="1510" width="19.5" height="21"/>
<text class="n" x="2047.75" y="1526">1</text><text class="n" x="2070.25" y="1526">15</text><text class="n" x="2092.75" y="1526">4</text><text class="n" x="2115.25" y="1526">20</text>
<text class="v" transform="rotate(-90 2081.5 1661.5)"><tspan x="2081.5" y="1656.5">Serviciul Impozite și taxe</tspan><tspan x="2081.5" y="1678.5">locale</tspan></text></g>
<g id="b20"><rect class="bb" x="2142" y="1507" width="74" height="281"/><rect class="col" x="2140" y="1505" width="78" height="30"/>
<rect class="cl" x="2145" y="1510" width="14.75" height="21"/><rect class="cl" x="2162.75" y="1510" width="14.75" height="21"/><rect class="cl" x="2180.5" y="1510" width="14.75" height="21"/><rect class="cl" x="2198.25" y="1510" width="14.75" height="21"/>
<text class="n" x="2152.4" y="1526">0</text><text class="n" x="2170.1" y="1526">7</text><text class="n" x="2187.9" y="1526">0</text><text class="n" x="2205.6" y="1526">7</text>
<text class="v" transform="rotate(-90 2179 1661.5)"><tspan x="2179" y="1656.5">Compartiment Financiar</tspan><tspan x="2179" y="1678.5">contabilitate</tspan></text></g>

<g id="b21"><rect class="bb" x="2243" y="1512" width="74" height="280"/><rect class="col" x="2241" y="1510" width="78" height="30"/>
<rect class="cl" x="2246" y="1515" width="14.75" height="21"/><rect class="cl" x="2263.75" y="1515" width="14.75" height="21"/><rect class="cl" x="2281.5" y="1515" width="14.75" height="21"/><rect class="cl" x="2299.25" y="1515" width="14.75" height="21"/>
<text class="n" x="2253.4" y="1531">0</text><text class="n" x="2271.1" y="1531">1</text><text class="n" x="2288.9" y="1531">1</text><text class="n" x="2306.6" y="1531">2</text>
<text class="v" transform="rotate(-90 2280 1666)"><tspan x="2280" y="1661">Compartiment Privatizare,</tspan><tspan x="2280" y="1683">comercial</tspan></text></g>
<g id="b22"><rect class="bb" x="2334" y="1512" width="67" height="280"/><rect class="col" x="2332" y="1510" width="71" height="30"/>
<rect class="cl" x="2337" y="1515" width="13" height="21"/><rect class="cl" x="2353" y="1515" width="13" height="21"/><rect class="cl" x="2369" y="1515" width="13" height="21"/><rect class="cl" x="2385" y="1515" width="13" height="21"/>
<text class="n" x="2343.5" y="1531">0</text><text class="n" x="2359.5" y="1531">2</text><text class="n" x="2375.5" y="1531">0</text><text class="n" x="2391.5" y="1531">2</text>
<text class="v" transform="rotate(-90 2367.5 1666)"><tspan x="2367.5" y="1672">Compartiment Audit intern</tspan></text></g>
<g id="b23"><rect class="bb" x="2419" y="1512" width="73" height="280"/><rect class="col" x="2417" y="1510" width="77" height="30"/>
<rect class="cl" x="2422" y="1515" width="14.5" height="21"/><rect class="cl" x="2439.5" y="1515" width="14.5" height="21"/><rect class="cl" x="2457" y="1515" width="14.5" height="21"/><rect class="cl" x="2474.5" y="1515" width="14.5" height="21"/>
<text class="n" x="2429.25" y="1531">0</text><text class="n" x="2446.75" y="1531">1</text><text class="n" x="2464.25" y="1531">0</text><text class="n" x="2481.75" y="1531">1</text>
<text class="v" transform="rotate(-90 2455.5 1666)"><tspan x="2455.5" y="1661">Compartiment Protecție</tspan><tspan x="2455.5" y="1683">civilă</tspan></text></g>
<g id="b24"><rect class="bb" x="2509" y="1512" width="82" height="280"/><rect class="col" x="2507" y="1510" width="86" height="30"/>
<rect class="cl" x="2512" y="1515" width="16.75" height="21"/><rect class="cl" x="2531.75" y="1515" width="16.75" height="21"/><rect class="cl" x="2551.5" y="1515" width="16.75" height="21"/><rect class="cl" x="2571.25" y="1515" width="16.75" height="21"/>
<text class="n" x="2520.4" y="1531">0</text><text class="n" x="2540.1" y="1531">5</text><text class="n" x="2559.9" y="1531">2</text><text class="n" x="2579.6" y="1531">7</text>
<text class="v" transform="rotate(-90 2550 1666)"><tspan x="2550" y="1661">Compartiment Achiziții</tspan><tspan x="2550" y="1683">publice</tspan></text></g>
<g id="b25"><rect class="bb" x="2609" y="1512" width="75" height="280"/><rect class="col" x="2607" y="1510" width="79" height="30"/>
<rect class="cl" x="2612" y="1515" width="15" height="21"/><rect class="cl" x="2630" y="1515" width="15" height="21"/><rect class="cl" x="2648" y="1515" width="15" height="21"/><rect class="cl" x="2666" y="1515" width="15" height="21"/>
<text class="n" x="2619.5" y="1531">0</text><text class="n" x="2637.5" y="1531">1</text><text class="n" x="2655.5" y="1531">0</text><text class="n" x="2673.5" y="1531">1</text>
<text class="v" transform="rotate(-90 2646.5 1666)"><tspan x="2646.5" y="1661">Serviciul intern de prevenire</tspan><tspan x="2646.5" y="1683">și protecția muncii</tspan></text></g>
<g id="b26"><rect class="bb" x="2701" y="1512" width="75" height="280"/><rect class="col" x="2699" y="1510" width="79" height="30"/>
<rect class="cl" x="2704" y="1515" width="15" height="21"/><rect class="cl" x="2722" y="1515" width="15" height="21"/><rect class="cl" x="2740" y="1515" width="15" height="21"/><rect class="cl" x="2758" y="1515" width="15" height="21"/>
<text class="n" x="2711.5" y="1531">1</text><text class="n" x="2729.5" y="1531">1</text><text class="n" x="2747.5" y="1531">7</text><text class="n" x="2765.5" y="1531">9</text>
<text class="v" transform="rotate(-90 2738.5 1666)"><tspan x="2738.5" y="1672">Birou Transport</tspan></text></g>
<g id="b27"><rect class="bb" x="2793" y="1512" width="80" height="280"/><rect class="col" x="2791" y="1510" width="84" height="30"/>
<rect class="cl" x="2796" y="1515" width="16.25" height="21"/><rect class="cl" x="2815.25" y="1515" width="16.25" height="21"/><rect class="cl" x="2834.5" y="1515" width="16.25" height="21"/><rect class="cl" x="2853.75" y="1515" width="16.25" height="21"/>
<text class="n" x="2804.1" y="1531">0</text><text class="n" x="2823.4" y="1531">0</text><text class="n" x="2842.6" y="1531">1</text><text class="n" x="2861.9" y="1531">1</text>
<text class="v" transform="rotate(-90 2833 1666)"><tspan x="2833" y="1661">Compartiment Expert</tspan><tspan x="2833" y="1683">problemele romilor</tspan></text></g>
<g id="b28"><rect class="bb" x="2889" y="1512" width="87" height="280"/><rect class="col" x="2887" y="1510" width="91" height="30"/>
<rect class="cl" x="2892" y="1515" width="18" height="21"/><rect class="cl" x="2913" y="1515" width="18" height="21"/><rect class="cl" x="2934" y="1515" width="18" height="21"/><rect class="cl" x="2955" y="1515" width="18" height="21"/>
<text class="n" x="2901" y="1531">1</text><text class="n" x="2922" y="1531">0</text><text class="n" x="2943" y="1531">20</text><text class="n" x="2964" y="1531">21</text>
<text class="v" transform="rotate(-90 2932.5 1666)"><tspan x="2932.5" y="1672">Serviciul public de pază</tspan></text></g>

<g id="marks">
<use href="#spk" x="195" y="1342"/><use href="#spk" x="482" y="1342"/><use href="#spk" x="762" y="1342"/><use href="#spk" x="1050" y="1347"/><use href="#spk" x="1333" y="1350"/><use href="#spk" x="1618" y="1350"/><use href="#spk" x="1903" y="1352"/><use href="#spk" x="2186" y="1353"/><use href="#spk" x="2468" y="1357"/><use href="#spk" x="2752" y="1360"/><use href="#spk" x="3040" y="1362"/>
<path d="M437,1784 L436,1795" stroke="#3b3fb0" stroke-width="2"/>
</g>
</svg>
